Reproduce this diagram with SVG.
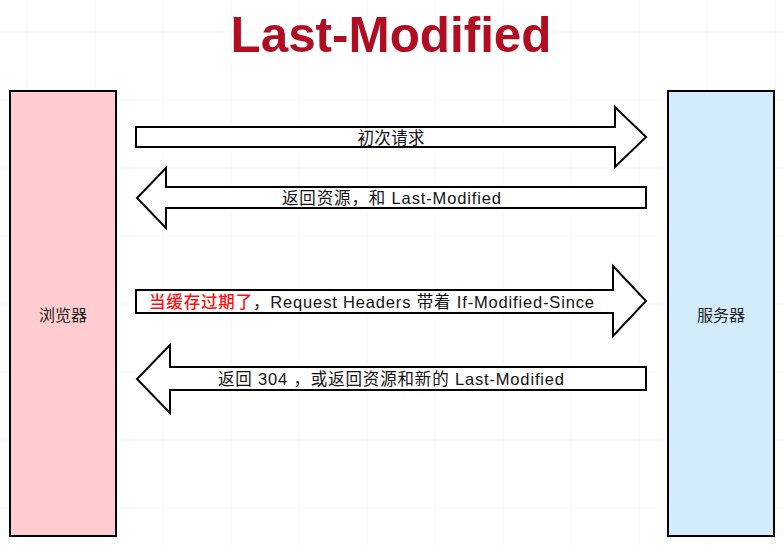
<svg xmlns="http://www.w3.org/2000/svg" width="784" height="546" viewBox="0 0 784 546">
<style>
.grid{stroke:#f7f7f7;stroke-width:1}
.box{stroke:#000;stroke-width:2}
.arrow{fill:#fff;stroke:#000;stroke-width:2;stroke-linejoin:miter}
.lbl{font-family:"Liberation Sans","Noto Sans CJK SC",sans-serif;font-size:16.5px;fill:#111;text-anchor:middle;dominant-baseline:central}
.node{font-family:"Noto Sans CJK SC",sans-serif;font-size:16px;fill:#222;text-anchor:middle;dominant-baseline:central}
.title{font-family:"Liberation Sans",Arial,sans-serif;font-weight:bold;font-size:50px;fill:#b00c22;text-anchor:middle}
</style>
<rect width="784" height="546" fill="#fff"/>
<g id="grid">
<path class="grid" d="M27 0V546M95 0V546M163 0V546M231 0V546M299 0V546M367 0V546M435 0V546M503 0V546M571 0V546M639 0V546M707 0V546M775 0V546M0 32H784M0 100H784M0 168H784M0 236H784M0 304H784M0 372H784M0 440H784M0 508H784"/>
</g>
<text id="title" class="title" x="391" y="52" textLength="321" lengthAdjust="spacingAndGlyphs">Last-Modified</text>
<g id="browser">
<rect class="box" x="10" y="91" width="106" height="445" fill="#ffccd0"/>
<text class="node" x="63" y="314">浏览器</text>
</g>
<g id="server">
<rect class="box" x="668" y="91" width="106" height="445" fill="#d2ecfc"/>
<text class="node" x="721" y="314">服务器</text>
</g>
<g id="connectors">
<g id="a1">
<polygon class="arrow" points="136,127 615,127 615,107 646,137 615,167 615,147 136,147"/>
<text class="lbl" x="391" y="138" textLength="67">初次请求</text>
</g>
<g id="a2">
<polygon class="arrow" points="646,187 166,187 166,168 137,198 166,228 166,208 646,208"/>
<text class="lbl" x="391.5" y="198" textLength="219">返回资源，和 Last-Modified</text>
</g>
<g id="a3">
<polygon class="arrow" points="136,290 613,290 613,266 646,301 613,336 613,313 136,313"/>
<text class="lbl" x="371.5" y="302" textLength="445"><tspan fill="#ff1010" font-weight="500">当缓存过期了</tspan>，Request Headers 带着 If-Modified-Since</text>
</g>
<g id="a4">
<polygon class="arrow" points="646,367 170,367 170,345 137,379 170,413 170,390 646,390"/>
<text class="lbl" x="391" y="379" textLength="346">返回 304 ，或返回资源和新的 Last-Modified</text>
</g>
</g>
</svg>
